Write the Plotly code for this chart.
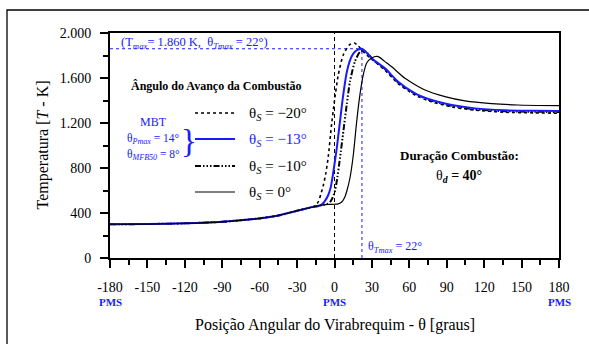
import plotly.graph_objects as go

# ---------------- data ----------------
theta_s20 = [-180, -150, -120, -90, -60, -45, -30, -22, -18, -15, -13, -11, -9, -7, -5, -2.5, 0, 3, 7, 12, 16, 19, 24.5, 32, 40.5, 51, 64.6, 78, 94, 112.7, 136.7, 160, 180]
T_s20 = [300, 302, 308, 322, 352, 378, 420, 443, 452, 468, 500, 565, 645, 750, 900, 1170, 1400, 1625, 1805, 1895, 1911, 1885, 1818, 1748, 1668, 1550, 1448, 1388, 1343, 1314, 1296, 1290, 1287]

theta_s13 = [-180, -150, -120, -90, -60, -45, -30, -20, -13, -10, -7.5, -5, -3, -1, 1.8, 4.4, 7, 10, 13.8, 17, 19, 22, 25.8, 31, 40.5, 51, 64.6, 78, 94, 112.7, 136.7, 160, 180]
T_s13 = [300, 302, 308, 322, 352, 378, 420, 447, 462, 478, 510, 560, 630, 760, 975, 1215, 1450, 1660, 1793, 1840, 1852, 1860, 1825, 1765, 1686, 1567, 1464, 1404, 1360, 1330, 1313, 1308, 1307]

theta_s10 = [-180, -150, -120, -90, -60, -45, -30, -20, -15, -10, -6, -3, 0, 1.8, 4.4, 7.1, 9.8, 12.4, 16.4, 20.4, 23.5, 27, 31, 40.5, 51, 64.6, 78, 94, 112.7, 136.7, 160, 180]
T_s10 = [300, 302, 308, 322, 352, 378, 420, 447, 460, 470, 482, 505, 580, 682, 889, 1126, 1363, 1570, 1748, 1832, 1845, 1812, 1760, 1680, 1560, 1458, 1398, 1354, 1322, 1305, 1300, 1298]

theta_s0 = [-180, -150, -120, -90, -60, -45, -30, -20, -15, -10, -5, 0, 3, 6, 8.4, 10, 12.4, 15.1, 17.8, 20.4, 23, 25.8, 29.8, 34, 36.5, 40, 45.9, 56.5, 72.6, 88.6, 104.7, 126, 147, 180]
T_s0 = [300, 302, 308, 322, 352, 378, 420, 447, 460, 470, 476, 478, 481, 500, 545, 600, 711, 918, 1215, 1452, 1625, 1733, 1778, 1792, 1781, 1750, 1700, 1597, 1493, 1434, 1396, 1372, 1360, 1354]

theta_tmax = 22
t_max = 1860

x_tickvals = [-180, -150, -120, -90, -60, -30, 0, 30, 60, 90, 120, 150, 180]
x_ticktext = ["-180", "-150", "-120", "-90", "-60", "-30", "0", "30", "60", "90", "120", "150", "180"]
y_tickvals = [0, 400, 800, 1200, 1600, 2000]
y_ticktext = ["0", "400", "800", "1.200", "1.600", "2.000"]
pms_positions = [-180, 0, 180]

legend_labels = ["θ<sub><i>S</i></sub> = −20°", "θ<sub><i>S</i></sub> = −13°",
                 "θ<sub><i>S</i></sub> = −10°", "θ<sub><i>S</i></sub> = 0°"]

# ---------------- styling ----------------
SERIF = "Liberation Serif"
BLUE = "#1a1aff"
W, H = 589, 344
L, R, T, B = 110, 30, 33, 86
PW, PH = W - L - R, H - T - B


def px(xp):
    return (xp - L) / PW


def py(yp):
    return (H - B - yp) / PH


dashdot_custom = "6px,2px,1.5px,2px,1.5px,2px,1.5px,2px"
styles = [
    dict(color="black", width=1.6, dash="dot"),
    dict(color=BLUE, width=2, dash="solid"),
    dict(color="black", width=2, dash=dashdot_custom),
    dict(color="black", width=1.2, dash="solid"),
]
series = [(theta_s20, T_s20), (theta_s13, T_s13), (theta_s10, T_s10), (theta_s0, T_s0)]

fig = go.Figure()
order = [0, 2, 1, 3]
for i in order:
    xs, ys = series[i]
    fig.add_trace(go.Scatter(x=xs, y=ys, mode="lines", line=dict(**styles[i], shape="spline", smoothing=0.6),
                             showlegend=False, hoverinfo="skip"))

shapes = []
# reference lines
shapes.append(dict(type="line", xref="x", yref="y", x0=0, x1=0, y0=0, y1=2000,
                   line=dict(color="black", width=1, dash="4px,3px"), layer="below"))
shapes.append(dict(type="line", xref="x", yref="y", x0=theta_tmax, x1=theta_tmax, y0=0, y1=t_max,
                   line=dict(color=BLUE, width=1, dash="dot"), layer="below"))
shapes.append(dict(type="line", xref="x", yref="y", x0=-180, x1=theta_tmax, y0=t_max, y1=t_max,
                   line=dict(color=BLUE, width=1, dash="dot"), layer="below"))

# outer frame
shapes.append(dict(type="rect", xref="paper", yref="paper", x0=px(7), x1=px(600), y0=py(355), y1=py(10),
                   line=dict(color="black", width=1.3)))

annotations = []
# legend
leg_rows = [113, 139, 166, 192]
for i, yy in enumerate(leg_rows):
    shapes.append(dict(type="line", xref="paper", yref="paper", x0=px(195), x1=px(235), y0=py(yy), y1=py(yy),
                       line=dict(color=styles[i]["color"], width=styles[i]["width"], dash=styles[i]["dash"])))
    annotations.append(dict(xref="paper", yref="paper", x=px(247), y=py(yy + 1), xanchor="left", yanchor="middle",
                            text=legend_labels[i], showarrow=False,
                            font=dict(family=SERIF, size=15, color=BLUE if i == 1 else "black")))

annotations.append(dict(xref="paper", yref="paper", x=px(215.5), y=py(86), xanchor="center", yanchor="middle",
                        text="<b>Ângulo do Avanço da Combustão</b>", showarrow=False,
                        font=dict(family=SERIF, size=12, color="black")))
annotations.append(dict(xref="paper", yref="paper", x=px(153), y=py(122), xanchor="center", yanchor="middle",
                        text="MBT", showarrow=False, font=dict(family=SERIF, size=12, color=BLUE)))
annotations.append(dict(xref="paper", yref="paper", x=px(153), y=py(139), xanchor="center", yanchor="middle",
                        text="θ<sub><i>Pmax</i></sub> = 14°", showarrow=False, font=dict(family=SERIF, size=11.5, color=BLUE)))
annotations.append(dict(xref="paper", yref="paper", x=px(153), y=py(155), xanchor="center", yanchor="middle",
                        text="θ<sub><i>MFB50</i></sub> = 8°", showarrow=False, font=dict(family=SERIF, size=11.5, color=BLUE)))
annotations.append(dict(xref="paper", yref="paper", x=px(189), y=py(141), xanchor="center", yanchor="middle",
                        text="}", showarrow=False, font=dict(family=SERIF, size=33, color=BLUE)))

annotations.append(dict(xref="paper", yref="paper", x=px(119), y=py(43), xanchor="left", yanchor="middle",
                        text="(T<sub><i>max</i></sub>= 1.860 K,  θ<sub><i>Tmax</i></sub> = 22°)", showarrow=False,
                        font=dict(family=SERIF, size=12.5, color=BLUE)))
annotations.append(dict(xref="paper", yref="paper", x=px(366), y=py(247), xanchor="left", yanchor="middle",
                        text="θ<sub><i>Tmax</i></sub> = 22°", showarrow=False,
                        font=dict(family=SERIF, size=12, color=BLUE)))
annotations.append(dict(xref="paper", yref="paper", x=px(459), y=py(155), xanchor="center", yanchor="middle",
                        text="<b>Duração Combustão:</b>", showarrow=False,
                        font=dict(family=SERIF, size=13, color="black")))
annotations.append(dict(xref="paper", yref="paper", x=px(459), y=py(176), xanchor="center", yanchor="middle",
                        text="θ<sub><b><i>d</i></b></sub><b> = 40°</b>", showarrow=False,
                        font=dict(family=SERIF, size=14, color="black")))
for p in pms_positions:
    annotations.append(dict(xref="x", yref="paper", x=p, y=py(302), xanchor="center", yanchor="middle",
                            text="<b>PMS</b>", showarrow=False, font=dict(family=SERIF, size=11, color=BLUE)))

# axis titles
annotations.append(dict(xref="paper", yref="paper", x=0.5, y=py(325), xanchor="center", yanchor="middle",
                        text="Posição Angular do Virabrequim - θ [graus]", showarrow=False,
                        font=dict(family=SERIF, size=16, color="black")))
annotations.append(dict(xref="paper", yref="paper", x=px(42), y=py(145.5), xanchor="center", yanchor="middle",
                        text="Temperatura [<i>T</i> - K]", textangle=-90, showarrow=False,
                        font=dict(family=SERIF, size=16, color="black")))

x_minor = [(a + b) / 2 for a, b in zip(x_tickvals[:-1], x_tickvals[1:])]
y_minor = [(a + b) / 2 for a, b in zip(y_tickvals[:-1], y_tickvals[1:])]

fig.update_layout(
    width=W, height=H,
    margin=dict(l=L, r=R, t=T, b=B),
    paper_bgcolor="white", plot_bgcolor="white",
    font=dict(family=SERIF, size=14, color="black"),
    shapes=shapes, annotations=annotations, showlegend=False,
    xaxis=dict(range=[-180, 180], tickmode="array", tickvals=x_tickvals, ticktext=x_ticktext,
               ticks="outside", ticklen=8, tickwidth=2, tickcolor="black",
               showline=True, linewidth=2, linecolor="black", mirror=True,
               showgrid=False, zeroline=False, ticklabelstandoff=7,
               minor=dict(tickvals=x_minor, ticks="outside", ticklen=5, tickwidth=2, tickcolor="black", showgrid=False),
               tickfont=dict(family=SERIF, size=14)),
    yaxis=dict(range=[0, 2000], tickmode="array", tickvals=y_tickvals, ticktext=y_ticktext,
               ticks="outside", ticklen=8, tickwidth=2, tickcolor="black",
               showline=True, linewidth=2, linecolor="black", mirror=True,
               showgrid=False, zeroline=False, ticklabelstandoff=6,
               minor=dict(tickvals=y_minor, ticks="outside", ticklen=5, tickwidth=2, tickcolor="black", showgrid=False),
               tickfont=dict(family=SERIF, size=14)),
)

fig.write_html("out.html")
